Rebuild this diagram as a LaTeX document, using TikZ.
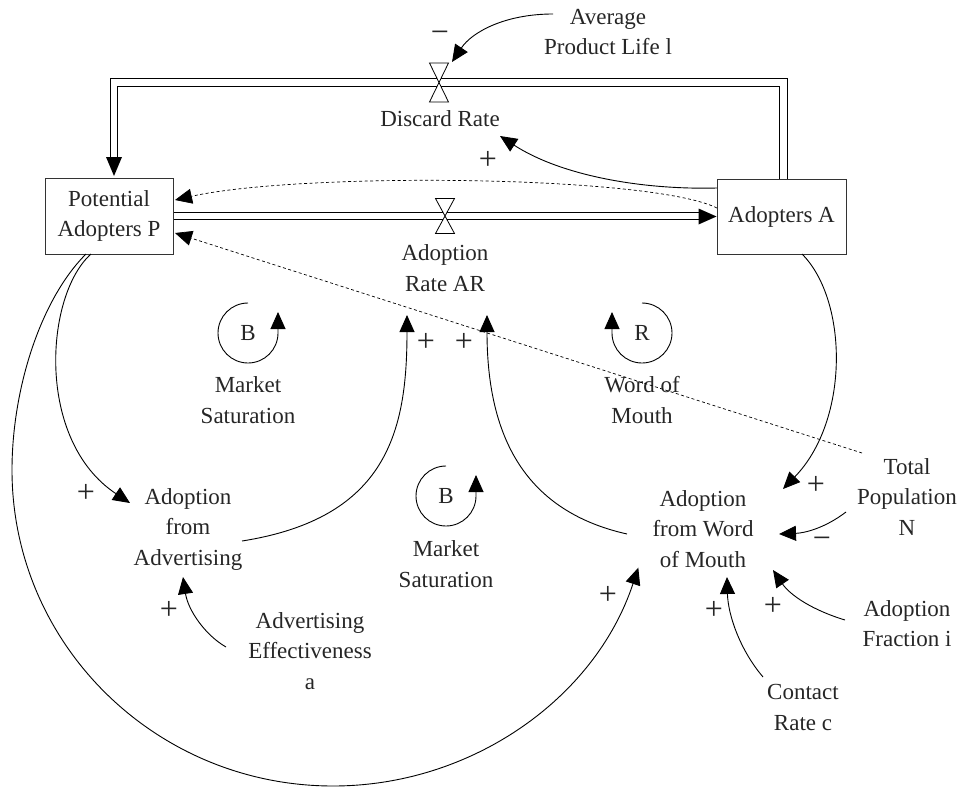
\documentclass[tikz,border=0pt]{standalone}
\usepackage{fontspec}
\setmainfont{Liberation Serif}
\usetikzlibrary{arrows.meta,backgrounds}
\begin{document}
\begin{tikzpicture}[x=1pt,y=-1pt,
  lbl/.style={align=center,inner sep=0pt,font=\fontsize{23}{30.5}\selectfont,text=black!85},
  sgn/.style={inner sep=0pt,font=\fontsize{32}{34}\selectfont,text=black!85},
  ltr/.style={inner sep=0pt,font=\fontsize{23}{30.5}\selectfont,text=black!85},
  stock/.style={draw=black!80,line width=1pt,fill=white,align=center,inner sep=0pt,font=\fontsize{23}{30.5}\selectfont,text=black!85},
  link/.style={line width=0.9pt,-{Triangle[length=17pt,width=15pt]}},
  info/.style={line width=0.7pt,dash pattern=on 3pt off 2.5pt,-{Triangle[length=17pt,width=15pt]}},
  pipe/.style={line width=1pt,double distance=6.5pt},
  valve/.style={draw,line width=0.8pt,fill=white},
]
\useasboundingbox (0,0) rectangle (959,787);

% stocks
\node[stock,minimum width=128pt,minimum height=76pt] (P) at (109,216) {Potential\\Adopters P};
\node[stock,minimum width=129pt,minimum height=75pt] (A) at (781.5,216.5) {Adopters A};

% labels
\node[lbl] (avg) at (608,32) {Average\\Product Life l};
\node[lbl] (dr) at (440,119) {Discard Rate};
\node[lbl] (ar) at (445,268) {Adoption\\Rate AR};
\node[lbl] (ms1) at (248,400) {Market\\Saturation};
\node[lbl] (wom) at (642,400) {Word of\\Mouth};
\node[lbl] (afa) at (188,529) {Adoption\\from\\Advertising};
\node[lbl] (ms2) at (446,564) {Market\\Saturation};
\node[lbl] (afw) at (703,529) {Adoption\\from Word\\of Mouth};
\node[lbl] (tp) at (907,497) {Total\\Population\\N};
\node[lbl] (ae) at (310,651) {Advertising\\Effectiveness\\a};
\node[lbl] (af) at (907,623.5) {Adoption\\Fraction i};
\node[lbl] (cr) at (803,707.5) {Contact\\Rate c};

% coordinates
\coordinate (dA) at (783.5,179);
\coordinate (dC1) at (783.5,82.5);
\coordinate (dC2) at (114,82.5);
\coordinate (dEnd) at (114,157);
\coordinate (dTip) at (114,176);
\coordinate (vD) at (439,82.5);
\coordinate (vA) at (445,216);
\coordinate (fEnd) at (699,216);

% pipes
\begin{scope}[on background layer]
\draw[pipe] (dA) -- (dC1) -- (dC2) -- (dEnd);
\draw[pipe] (P.east) -- (fEnd);
\end{scope}
\fill (dTip) -- ++(-8,-19) -- ++(16,0) -- cycle;
\fill (A.west) -- ++(-18,-8) -- ++(0,16) -- cycle;

% valves
\draw[valve] (vD) -- ++(-9.5,-19.5) -- ++(19,0) -- cycle;
\draw[valve] (vD) -- ++(-9.5,19.5) -- ++(19,0) -- cycle;
\draw[valve] (vA) -- ++(-9.5,-17.5) -- ++(19,0) -- cycle;
\draw[valve] (vA) -- ++(-9.5,17.5) -- ++(19,0) -- cycle;

% link end points
\coordinate (avgS) at (553,14);
\coordinate (vDtip) at (452,62);
\coordinate (aS1) at (717,188);
\coordinate (drTip) at (500,136);
\coordinate (aS2) at (717,208);
\coordinate (pTip1) at (175,200);
\coordinate (tpS) at (862,453);
\coordinate (pTip2) at (175,233);
\coordinate (pS1) at (91,254);
\coordinate (afaTip) at (130,503);
\coordinate (pS2) at (86,254);
\coordinate (afaS) at (242,541);
\coordinate (arTip1) at (407,315);
\coordinate (afwS) at (627,534);
\coordinate (arTip2) at (487,315);
\coordinate (aS3) at (802,254);
\coordinate (afwTip1) at (783,489);
\coordinate (tpS2) at (846,512);
\coordinate (afwTip2) at (779,534);
\coordinate (afS) at (845,620);
\coordinate (afwTip3) at (773,570);
\coordinate (crS) at (763,677);
\coordinate (afwTip4) at (727,577);
\coordinate (aeS) at (226,647);
\coordinate (afaTip2) at (183,577);

% links
\draw[link] (avgS) .. controls (505,14) and (472,32) .. (vDtip);
\draw[link] (aS1) .. controls (640,190) and (560,175) .. (drTip);
\draw[info] (aS2) .. controls (650,175) and (300,172) .. (pTip1);
\draw[info] (tpS) -- (pTip2);
\draw[link] (pS1) .. controls (45,295) and (35,440) .. (afaTip);
\draw[link] (pS2) .. controls (40,300) and (12,390) .. (12,470)
   arc[start angle=180,end angle=18,x radius=321,y radius=316];
\draw[link] (afaS) .. controls (388,518) and (407,430) .. (arTip1);
\draw[link] (afwS) .. controls (520,510) and (487,430) .. (arTip2);
\draw[link] (aS3) .. controls (848,300) and (850,420) .. (afwTip1);
\draw[link] (tpS2) .. controls (825,528) and (805,533) .. (afwTip2);
\draw[link] (afS) .. controls (812,610) and (790,595) .. (afwTip3);
\draw[link] (crS) .. controls (740,650) and (728,615) .. (afwTip4);
\draw[link] (aeS) .. controls (205,635) and (188,610) .. (afaTip2);

% loop symbols
\coordinate (lB1) at (248,303);
\coordinate (lR) at (642,303);
\coordinate (lB2) at (446,466);
\draw[link] (lB1) arc[start angle=270,end angle=0,radius=30] -- ++(0,-21);
\draw[link] (lR) arc[start angle=-90,end angle=180,radius=30] -- ++(0,-21);
\draw[link] (lB2) arc[start angle=270,end angle=0,radius=30] -- ++(0,-21);
\node[ltr] (tB1) at (248,333) {B};
\node[ltr] (tR) at (642,333) {R};
\node[ltr] (tB2) at (446,496) {B};

% polarity signs
\node[sgn] (s1) at (426,342) {+};
\node[sgn] (s2) at (464,342) {+};
\node[sgn] (s3) at (86,493) {+};
\node[sgn] (s4) at (488,160) {+};
\node[sgn] (s5) at (440,37) {−};
\node[sgn] (s6) at (816,485) {+};
\node[sgn] (s7) at (822,543) {−};
\node[sgn] (s8) at (169,610) {+};
\node[sgn] (s9) at (608,595) {+};
\node[sgn] (s10) at (714,610) {+};
\node[sgn] (s11) at (773,606) {+};
\end{tikzpicture}
\end{document}
